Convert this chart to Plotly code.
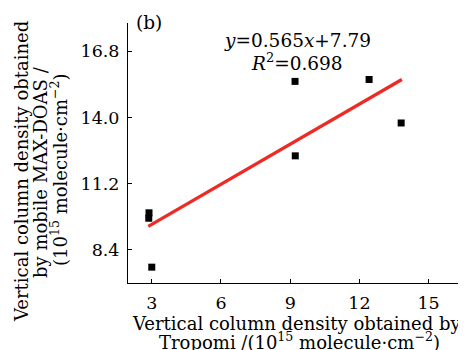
import plotly.graph_objects as go

# Data
tropomi_x = [2.88, 2.87, 3.00, 9.22, 9.21, 12.42, 13.81]
maxdoas_y = [9.97, 9.74, 7.67, 12.38, 15.53, 15.61, 13.77]
fit_slope = 0.565
fit_intercept = 7.79
fit_r2 = 0.698
fit_x_range = [2.85, 13.84]
x_ticks = [3, 6, 9, 12, 15]
y_ticks = [8.4, 11.2, 14.0, 16.8]
y_tick_labels = ["8.4", "11.2", "14.0", "16.8"]

FONT = "DejaVu Serif"
OFF = 8  # page body margin of the browser
W, H = 466 - OFF, 350 - OFF
# plot area in screen pixels: x 128..466, y 23..283
L, R, T, B = 128 - OFF, 0, 23 - OFF, 350 - 283
PW = W - L - R
PH = H - T - B

def px(x):
    return (x - OFF - L) / PW

def py(y):
    return (H - B - (y - OFF)) / PH

fit_y = [fit_slope * v + fit_intercept for v in fit_x_range]

fig = go.Figure()
fig.add_trace(go.Scatter(
    x=tropomi_x, y=maxdoas_y, mode="markers",
    marker=dict(symbol="square", size=7, color="black"),
    showlegend=False))
fig.add_trace(go.Scatter(
    x=fit_x_range, y=fit_y, mode="lines",
    line=dict(color="#ee2a24", width=3.2),
    showlegend=False))

axis_common = dict(
    showline=True, linecolor="black", linewidth=1,
    ticks="inside", ticklen=4, tickcolor="black", tickwidth=1,
    showgrid=False, zeroline=False, mirror=False, automargin=False,
    tickfont=dict(family=FONT, size=17.5, color="black"),
)
fig.update_xaxes(range=[1.97, 16.62], tickvals=x_ticks,
                 ticklabelstandoff=4, **axis_common)
fig.update_yaxes(range=[7.0, 18.0], tickvals=y_ticks, ticktext=y_tick_labels,
                 ticklabelstandoff=4, **axis_common)

ann = []
def add_text(text, x, y, angle=0, size=18):
    ann.append(dict(text=text, xref="paper", yref="paper", x=px(x), y=py(y),
                    xanchor="center", yanchor="middle", showarrow=False,
                    textangle=angle,
                    font=dict(family=FONT, size=size, color="black")))

add_text("Vertical column density obtained by", 297, 323)
add_text("Tropomi /(10<sup>15</sup> molecule\u00b7cm<sup>\u22122</sup>)", 299, 341)
add_text("Vertical column density obtained", 21, 172, angle=-90)
add_text("by mobile MAX-DOAS /", 40, 172, angle=-90)
add_text("(10<sup>15</sup> molecule\u00b7cm<sup>\u22122</sup>)", 59, 170, angle=-90)
add_text("(b)", 149, 22, size=18.5)
add_text("<i>y</i>=0.565<i>x</i>+7.79", 297, 41, size=18.5)
add_text("<i>R</i><sup>2</sup>=%.3f" % fit_r2, 297, 62, size=18.5)

fig.update_layout(
    width=W, height=H,
    margin=dict(l=L, r=R, t=T, b=B, pad=0),
    paper_bgcolor="white", plot_bgcolor="white",
    annotations=ann,
    font=dict(family=FONT, color="black"),
)
fig.write_html("out.html")
